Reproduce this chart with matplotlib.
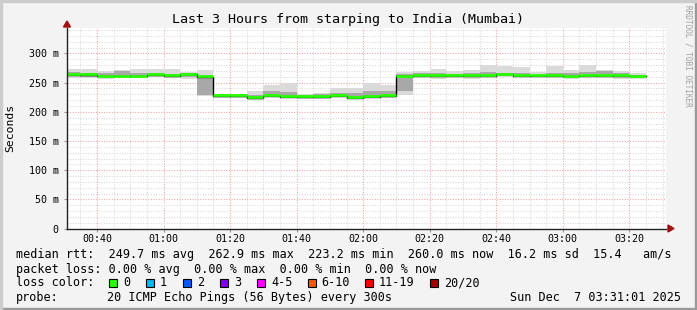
import matplotlib.pyplot as plt
import numpy as np
from matplotlib.patches import Rectangle, Polygon

# 5-minute bins, minutes after midnight (00:30 ... 03:20)
bin_start = [30, 35, 40, 45, 50, 55, 60, 65, 70, 75, 80, 85, 90, 95, 100, 105, 110, 115,
             120, 125, 130, 135, 140, 145, 150, 155, 160, 165, 170, 175, 180, 185, 190, 195, 200]
median = [263, 263, 261, 261, 261, 263, 262, 264, 260, 227, 227, 224, 227, 226, 226, 226, 227, 224,
          226, 227, 261, 262, 262, 262, 262, 262, 264, 262, 262, 262, 261, 262, 262, 262, 261]
smoke_hi = [273, 273, 270, 272, 273, 274, 273, 268, 271, 230, 230, 236, 246, 249, 231, 232, 240, 240,
            249, 246, 268, 270, 273, 270, 271, 281, 279, 276, 268, 278, 271, 280, 271, 270, 267]
smoke_lo = [258, 258, 257, 258, 260, 260, 258, 257, 227, 224, 224, 220, 225, 223, 222, 222, 226, 222,
            223, 223, 229, 260, 257, 259, 257, 259, 260, 259, 259, 259, 257, 260, 259, 257, 257]
inner_hi = [268, 266, 266, 270, 266, 267, 265, 263, 262, 228, 228, 228, 236, 234, 228, 230, 232, 232,
            236, 236, 264, 266, 266, 265, 266, 268, 266, 266, 263, 266, 266, 268, 270, 267, 263]
inner_lo = [261, 260, 259, 260, 260, 261, 260, 259, 229, 225, 225, 223, 226, 225, 224, 224, 226, 223,
            225, 225, 235, 261, 259, 261, 260, 261, 261, 261, 261, 261, 259, 261, 261, 260, 259]

tick_pos = [40, 60, 80, 100, 120, 140, 160, 180, 200]
tick_labels = ['00:40', '01:00', '01:20', '01:40', '02:00', '02:20', '02:40', '03:00', '03:20']
y_ticks = [0, 50, 100, 150, 200, 250, 300]
y_labels = ['0', '50 m', '100 m', '150 m', '200 m', '250 m', '300 m']

loss_labels = ['0', '1', '2', '3', '4-5', '6-10', '11-19', '20/20']
loss_colors = ['#26ff00', '#00b8ff', '#0059ff', '#7e00ff', '#ff00ff', '#ff5500', '#ff0000', '#a10000']

W, H = 697, 310
MONO = 'DejaVu Sans Mono'


def px(x, y):
    return x / W, 1 - y / H


fig = plt.figure(figsize=(W / 100, H / 100), dpi=100, facecolor='#f3f3f3')

# 3d-ish border
fig.patches.append(Rectangle((0, 0), 1, 2 / H, transform=fig.transFigure, color='#9a9a9a'))
fig.patches.append(Rectangle((1 - 2 / W, 0), 2 / W, 1, transform=fig.transFigure, color='#9a9a9a'))
fig.patches.append(Rectangle((0, 1 - 2 / H), 1, 2 / H, transform=fig.transFigure, color='#cccccc'))
fig.patches.append(Rectangle((0, 0), 2 / W, 1, transform=fig.transFigure, color='#cccccc'))

left, right, top, bottom = 67, 666, 28, 228.7
ax = fig.add_axes([left / W, 1 - bottom / H, (right - left) / W, (bottom - top) / H])
ax.set_facecolor('white')
ax.set_xlim(31, 211)
ax.set_ylim(0, (bottom - top) / 0.5843)

# grid
for m in range(35, 211, 5):
    col = '#f2a0a0' if m % 20 == 0 else '#d8d8d8'
    ax.axvline(m, color=col, lw=0.75, ls=(0, (1, 1.5)), zorder=1)
for v in range(10, 341, 10):
    col = '#f2a0a0' if v % 50 == 0 else '#d8d8d8'
    ax.axhline(v, color=col, lw=0.75, ls=(0, (1, 1.5)), zorder=1)

# smoke
lo = np.array(smoke_lo)
hi = np.array(smoke_hi)
ilo = np.array(inner_lo)
ihi = np.array(inner_hi)
ax.bar(bin_start, hi - lo, bottom=lo, width=5, align='edge', color='#dadada', lw=0, zorder=2)
ax.bar(bin_start, ihi - ilo, bottom=ilo, width=5, align='edge', color='#a8a8a8', lw=0, zorder=3)

# median
edges = bin_start + [bin_start[-1] + 5]
ax.step(edges, median + [median[-1]], where='post', color='black', lw=1.0, zorder=4)
ax.hlines(np.array(median) + 1, bin_start, edges[1:], color=loss_colors[0], lw=2.0, zorder=5)

for s in ['top', 'right']:
    ax.spines[s].set_visible(False)
for s in ['left', 'bottom']:
    ax.spines[s].set_color('#222222')
    ax.spines[s].set_linewidth(1.0)
    ax.spines[s].set_zorder(6)

ax.set_xticks(tick_pos)
ax.set_xticklabels(tick_labels, fontfamily=MONO, fontsize=7.2)
ax.set_yticks(y_ticks)
ax.set_yticklabels(y_labels, fontfamily=MONO, fontsize=7.2)
ax.tick_params(axis='x', length=2, color='#999999', pad=2)
ax.tick_params(axis='y', length=2, color='#999999', pad=4)
ax.set_ylabel('Seconds', fontfamily=MONO, fontsize=8.2, labelpad=10)

# axis arrows (decoration)
fig.patches.append(Polygon([[668, H - 225], [674, H - 228.5], [668, H - 232]], closed=True,
                           transform=None, color='#a01010'))
fig.patches.append(Polygon([[63.5, H - 27], [67, H - 21], [70.5, H - 27]], closed=True,
                           transform=None, color='#a01010'))

fig.text(*px(347.5, 19), 'Last 3 Hours from starping to India (Mumbai)', ha='center', va='center',
         fontfamily=MONO, fontsize=9.6)
fig.text(*px(688, 5), 'RRDTOOL / TOBI OETIKER', rotation=270, ha='center', va='top',
         fontfamily=MONO, fontsize=5.6, color='#a0a0a0')

fs = 8.5
fig.text(*px(16, 254.5), 'median rtt:  249.7 ms avg  262.9 ms max  223.2 ms min  260.0 ms now  16.2 ms sd  15.4   am/s',
         va='center', fontfamily=MONO, fontsize=fs)
fig.text(*px(16, 269), 'packet loss: 0.00 % avg  0.00 % max  0.00 % min  0.00 % now',
         va='center', fontfamily=MONO, fontsize=fs)
fig.text(*px(16, 283), 'loss color:', va='center', fontfamily=MONO, fontsize=fs)
box_x = [109, 146, 183, 220, 257, 307.5, 365, 430]
for bx, lab, c in zip(box_x, loss_labels, loss_colors):
    fig.patches.append(Rectangle(px(bx, 287), 8 / W, 8 / H, transform=fig.transFigure,
                                 facecolor=c, edgecolor='black', lw=0.8))
    fig.text(*px(bx + 14, 283), lab, va='center', fontfamily=MONO, fontsize=fs)
fig.text(*px(16, 297.5), 'probe:', va='center', fontfamily=MONO, fontsize=fs)
fig.text(*px(107, 297.5), '20 ICMP Echo Pings (56 Bytes) every 300s', va='center', fontfamily=MONO, fontsize=fs)
fig.text(*px(681, 297.5), 'Sun Dec  7 03:31:01 2025', ha='right', va='center', fontfamily=MONO, fontsize=fs)

fig.savefig('out.png', dpi=100, facecolor=fig.get_facecolor())
